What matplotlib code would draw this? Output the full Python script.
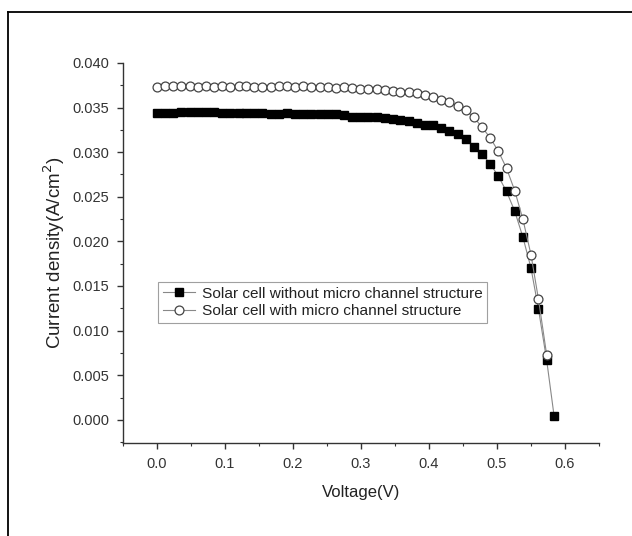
import matplotlib
matplotlib.use("Agg")
import matplotlib.pyplot as plt
from matplotlib.lines import Line2D
from matplotlib.ticker import MultipleLocator

plt.rcParams['font.family'] = ['Liberation Sans', 'DejaVu Sans']

# voltage points (V), shared by both curves
voltage = [0.000, 0.012, 0.024, 0.036, 0.048, 0.060, 0.072, 0.084, 0.096, 0.108,
           0.120, 0.131, 0.143, 0.155, 0.167, 0.179, 0.191, 0.203, 0.215, 0.227,
           0.239, 0.251, 0.263, 0.275, 0.287, 0.299, 0.311, 0.323, 0.335, 0.347,
           0.358, 0.370, 0.382, 0.394, 0.406, 0.418, 0.430, 0.442, 0.454, 0.466,
           0.478, 0.490, 0.502, 0.514, 0.526, 0.538, 0.550, 0.561, 0.573, 0.584]

# current density (A/cm^2)
j_without = [0.0344, 0.0344, 0.0344, 0.0345, 0.0345, 0.0345, 0.0345, 0.0345, 0.0344, 0.0344,
             0.0344, 0.0344, 0.0344, 0.0344, 0.0343, 0.0343, 0.0344, 0.0343, 0.0343, 0.0343,
             0.0343, 0.0343, 0.0343, 0.0342, 0.0340, 0.0339, 0.0339, 0.0339, 0.0338, 0.0337,
             0.0336, 0.0335, 0.0333, 0.0331, 0.0330, 0.0327, 0.0324, 0.0320, 0.0315, 0.0306,
             0.0298, 0.0287, 0.0273, 0.0256, 0.0234, 0.0205, 0.0170, 0.0124, 0.0067, 0.0004]

j_with = [0.0373, 0.0374, 0.0374, 0.0374, 0.0374, 0.0373, 0.0374, 0.0373, 0.0374, 0.0373,
          0.0374, 0.0374, 0.0373, 0.0373, 0.0373, 0.0374, 0.0374, 0.0373, 0.0374, 0.0373,
          0.0373, 0.0373, 0.0372, 0.0373, 0.0372, 0.0371, 0.0371, 0.0371, 0.0370, 0.0369,
          0.0368, 0.0367, 0.0366, 0.0364, 0.0362, 0.0359, 0.0356, 0.0352, 0.0347, 0.0339,
          0.0328, 0.0316, 0.0301, 0.0282, 0.0257, 0.0225, 0.0185, 0.0135, 0.0073]

labels = ['Solar cell without micro channel structure',
          'Solar cell with micro channel structure']

fig = plt.figure(figsize=(6.32, 5.36), dpi=100)
ax = fig.add_axes([0.1946, 0.1735, 0.7532, 0.709])

ax.plot(voltage, j_without, color='#888888', lw=0.8, marker='s', ms=5.8,
        mfc='black', mec='black', label=labels[0])
ax.plot(voltage[:len(j_with)], j_with, color='#888888', lw=0.8, marker='o', ms=6.4,
        mfc='white', mec='#444444', mew=0.9, label=labels[1])

ax.set_xlim(-0.05, 0.65)
ax.set_ylim(-0.0026, 0.040)
ax.xaxis.set_major_locator(MultipleLocator(0.1))
ax.xaxis.set_minor_locator(MultipleLocator(0.05))
ax.yaxis.set_major_locator(MultipleLocator(0.005))
ax.yaxis.set_minor_locator(MultipleLocator(0.0025))
ax.xaxis.set_major_formatter(plt.FormatStrFormatter('%.1f'))
ax.yaxis.set_major_formatter(plt.FormatStrFormatter('%.3f'))

for side in ['top', 'right']:
    ax.spines[side].set_visible(False)
for side in ['left', 'bottom']:
    ax.spines[side].set_color('#333333')
    ax.spines[side].set_linewidth(1.0)

ax.tick_params(which='major', direction='out', length=4, width=1.0, color='#333333',
               labelsize=10.5, labelcolor='#333333', pad=6)
ax.tick_params(which='minor', direction='out', length=2.5, width=0.8, color='#333333')

ax.set_xlabel('Voltage(V)', fontsize=12, color='#222222', labelpad=10)
ax.set_ylabel('Current density(A/cm$^2$)', fontsize=13.5, color='#222222', labelpad=4)

leg = ax.legend(loc='upper left', bbox_to_anchor=(0.0735, 0.4237), fontsize=11.1,
                frameon=True, fancybox=False, edgecolor='#888888', borderpad=0.3,
                handlelength=2.1, handletextpad=0.45, labelspacing=0.25,
                borderaxespad=0)
leg.get_frame().set_linewidth(0.8)
for t in leg.get_texts():
    t.set_color('#222222')

# border around the figure (left and top edges)
fig.add_artist(Line2D([0.0134, 0.0134], [0.0, 0.9776], transform=fig.transFigure,
                      color='black', lw=1.3))
fig.add_artist(Line2D([0.0134, 1.0], [0.9776, 0.9776], transform=fig.transFigure,
                      color='black', lw=1.3))

fig.savefig('out.png', dpi=100)
